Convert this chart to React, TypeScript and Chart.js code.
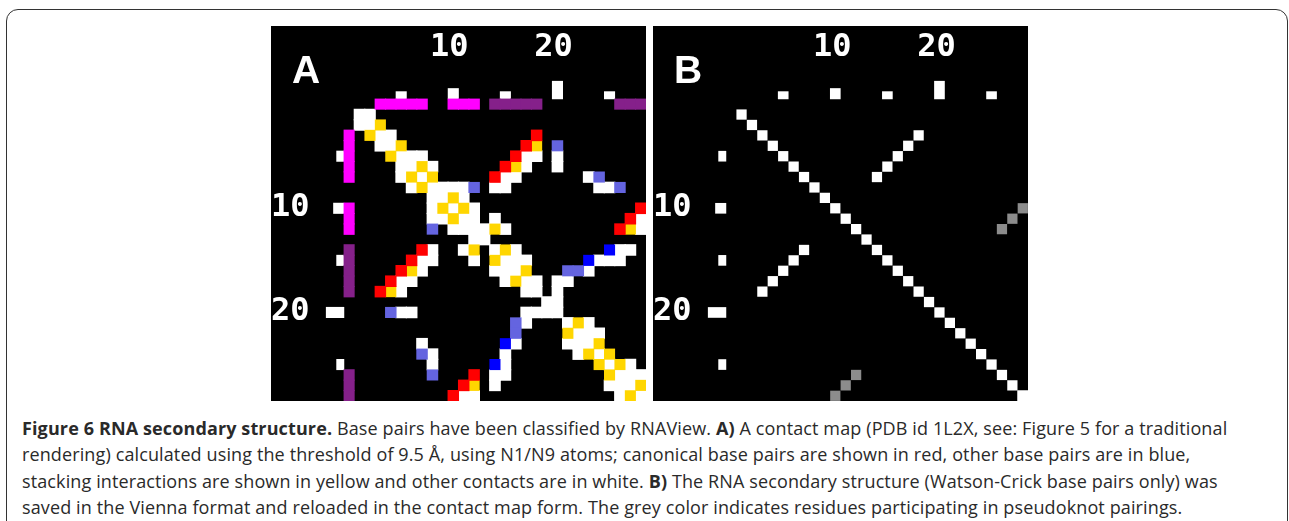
import React, { useEffect, useRef } from "react";
import { Chart, registerables } from "chart.js";

Chart.register(...registerables);

type RowCells = [number, number[]];

const AXIS_MIN = -7.5;
const AXIS_MAX = 28.5;
const TICK_LABELS = [10, 20];

const SHORT_TICKS = [5, 15, 25];
const MEDIUM_TICKS = [10];
const LONG_TICKS = [20];
const SHORT_TICK_LENGTH = 0.7;
const MEDIUM_TICK_LENGTH = 1;
const LONG_TICK_LENGTH = 1.7;

const MAGENTA_STRIP = [3, 4, 5, 6, 7, 10, 11, 12];
const PURPLE_STRIP = [14, 15, 16, 17, 18, 26, 27, 28];

const A_WHITE: RowCells[] = [
  [1, [1, 2]],
  [2, [1, 2]],
  [3, [3, 4]],
  [4, [3, 4]],
  [5, [5, 6, 7, 17, 18, 20]],
  [6, [5, 6, 8, 17, 20]],
  [7, [5, 7, 15, 16, 23]],
  [8, [6, 8, 9, 10, 11, 14, 15, 24, 25]],
  [9, [8, 9, 11]],
  [10, [8, 10, 12]],
  [11, [8, 9, 11, 12, 14, 28]],
  [12, [10, 11, 12, 13, 15, 28]],
  [13, [12, 13]],
  [14, [8, 11, 14, 16, 26, 27]],
  [15, [7, 8, 12, 15, 16, 17, 24, 25, 26]],
  [16, [7, 14, 15, 16, 23]],
  [17, [5, 6, 15, 17, 18, 20, 21]],
  [18, [5, 17, 18, 20]],
  [19, [19, 20]],
  [20, [5, 6, 17, 18, 19, 20]],
  [21, [17, 21, 23]],
  [22, [22, 23, 24]],
  [23, [7, 16, 21, 22, 23]],
  [24, [8, 15, 22, 24]],
  [25, [8, 15, 25, 27]],
  [26, [14, 15, 26, 27, 28]],
  [27, [14, 25, 26, 27]],
  [28, [11, 12, 26, 28]],
];

const A_YELLOW: RowCells[] = [
  [2, [3]],
  [3, [2]],
  [4, [5, 18]],
  [5, [4]],
  [6, [7, 16]],
  [7, [6, 8]],
  [8, [7]],
  [9, [10]],
  [10, [9, 11]],
  [11, [10]],
  [12, [14, 27]],
  [14, [12, 15]],
  [15, [14]],
  [16, [6, 17]],
  [17, [16]],
  [18, [4]],
  [21, [22]],
  [22, [21]],
  [23, [24]],
  [24, [23, 25]],
  [25, [24, 26]],
  [26, [25]],
  [27, [12, 28]],
  [28, [27]],
];

const A_RED: RowCells[] = [
  [3, [18]],
  [4, [17]],
  [5, [16]],
  [6, [15]],
  [7, [14]],
  [10, [28]],
  [11, [27]],
  [12, [26]],
  [14, [7]],
  [15, [6]],
  [16, [5]],
  [17, [4]],
  [18, [3]],
  [26, [12]],
  [27, [11]],
  [28, [10]],
];

const A_BLUE: RowCells[] = [
  [14, [25]],
  [15, [23]],
  [23, [15]],
  [25, [14]],
];

const A_LIGHT_BLUE: RowCells[] = [
  [4, [20]],
  [7, [24]],
  [8, [12, 26]],
  [12, [8]],
  [16, [21, 22]],
  [20, [4]],
  [21, [16]],
  [22, [16]],
  [24, [7]],
  [26, [8]],
];

const B_WHITE: RowCells[] = [
  [1, [1]],
  [2, [2]],
  [3, [3, 18]],
  [4, [4, 17]],
  [5, [5, 16]],
  [6, [6, 15]],
  [7, [7, 14]],
  [8, [8]],
  [9, [9]],
  [10, [10]],
  [11, [11]],
  [12, [12]],
  [13, [13]],
  [14, [7, 14]],
  [15, [6, 15]],
  [16, [5, 16]],
  [17, [4, 17]],
  [18, [3, 18]],
  [19, [19]],
  [20, [20]],
  [21, [21]],
  [22, [22]],
  [23, [23]],
  [24, [24]],
  [25, [25]],
  [26, [26]],
  [27, [27]],
];

const B_GREY: RowCells[] = [
  [10, [28]],
  [11, [27]],
  [12, [26]],
  [26, [12]],
  [27, [11]],
  [28, [10]],
];

const B_CORNER: RowCells[] = [[28, [28]]];

const WHITE = "#ffffff";
const YELLOW = "#ffd600";
const RED = "#ff0000";
const BLUE = "#0000ff";
const LIGHT_BLUE = "#6464e0";
const MAGENTA = "#ff00ff";
const PURPLE = "#85208a";
const GREY = "#8c8c8c";

const PANEL = 375;
const CELL = PANEL / (AXIS_MAX - AXIS_MIN);

function cellSet(rows: RowCells[], color: string, half: number, thick: number) {
  const data: any[] = [];
  rows.forEach(([row, cols]) =>
    cols.forEach((col) => data.push({ x: [col - half, col + half], y: row }))
  );
  return {
    indexAxis: "y",
    data,
    backgroundColor: color,
    barThickness: thick,
    grouped: false,
  };
}

function topTicks(cols: number[], len: number, thick: number) {
  return {
    indexAxis: "x",
    data: cols.map((c) => ({ x: c, y: [-0.5 - len, -0.5] })),
    backgroundColor: WHITE,
    barThickness: thick,
    grouped: false,
  };
}

function leftTicks(rows: number[], len: number, thick: number) {
  return {
    indexAxis: "y",
    data: rows.map((r) => ({ x: [-0.5 - len, -0.5], y: r })),
    backgroundColor: WHITE,
    barThickness: thick,
    grouped: false,
  };
}

function tickSets(thick: number) {
  return [
    topTicks(SHORT_TICKS, SHORT_TICK_LENGTH, thick),
    topTicks(MEDIUM_TICKS, MEDIUM_TICK_LENGTH, thick),
    topTicks(LONG_TICKS, LONG_TICK_LENGTH, thick),
    leftTicks(SHORT_TICKS, SHORT_TICK_LENGTH, thick),
    leftTicks(MEDIUM_TICKS, MEDIUM_TICK_LENGTH, thick),
    leftTicks(LONG_TICKS, LONG_TICK_LENGTH, thick),
  ];
}

function stripSets(cells: number[], color: string) {
  return [
    {
      indexAxis: "y",
      data: cells.map((c) => ({ x: [c - 0.52, c + 0.52], y: 0 })),
      backgroundColor: color,
      barThickness: CELL,
      grouped: false,
    },
    {
      indexAxis: "x",
      data: cells.map((r) => ({ x: 0, y: [r - 0.52, r + 0.52] })),
      backgroundColor: color,
      barThickness: CELL,
      grouped: false,
    },
  ];
}

function datasetsA() {
  const t = CELL + 0.5;
  return [
    cellSet(A_RED, RED, 0.52, t),
    cellSet(A_YELLOW, YELLOW, 0.5, CELL),
    cellSet(A_BLUE, BLUE, 0.5, CELL),
    cellSet(A_LIGHT_BLUE, LIGHT_BLUE, 0.52, CELL),
    ...stripSets(MAGENTA_STRIP, MAGENTA),
    ...stripSets(PURPLE_STRIP, PURPLE),
    ...tickSets(CELL),
    cellSet(A_WHITE, WHITE, 0.53, t),
  ];
}

function datasetsB() {
  const t = 9.6;
  return [
    ...tickSets(10),
    cellSet(B_WHITE, WHITE, 0.46, t),
    cellSet(B_GREY, GREY, 0.46, t),
    cellSet(B_CORNER, WHITE, 0.5, CELL),
  ];
}

const zeroPadding = (s: any) => {
  s.paddingLeft = 0;
  s.paddingRight = 0;
  s.paddingTop = 0;
  s.paddingBottom = 0;
};

function ContactMap({ left, datasets, xLabelOffset }: { left: number; datasets: () => any[]; xLabelOffset: number }) {
  const ref = useRef<HTMLCanvasElement>(null);
  useEffect(() => {
    const chart = new Chart(ref.current as HTMLCanvasElement, {
      type: "bar",
      data: { datasets: datasets() as any },
      options: {
        animation: false,
        responsive: false,
        events: [],
        layout: { padding: 0 },
        plugins: { legend: { display: false }, tooltip: { enabled: false } },
        scales: {
          x: {
            type: "linear",
            position: "top",
            min: AXIS_MIN,
            max: AXIS_MAX,
            offset: false,
            grid: { display: false },
            border: { display: false },
            afterFit: (s: any) => {
              s.height = 0;
              zeroPadding(s);
            },
            afterBuildTicks: (s: any) => {
              s.ticks = TICK_LABELS.map((value) => ({ value }));
            },
            ticks: {
              color: WHITE,
              mirror: true,
              padding: 2,
              labelOffset: xLabelOffset,
              maxRotation: 0,
              autoSkip: false,
              font: { family: "'DejaVu Sans Mono'", weight: "bold", size: 32 },
              callback: (v: any) => String(v),
            },
          },
          y: {
            type: "linear",
            position: "left",
            reverse: true,
            min: AXIS_MIN,
            max: AXIS_MAX,
            offset: false,
            grid: { display: false },
            border: { display: false },
            afterFit: (s: any) => {
              s.width = 0;
              zeroPadding(s);
            },
            afterBuildTicks: (s: any) => {
              s.ticks = TICK_LABELS.map((value) => ({ value }));
            },
            ticks: {
              color: WHITE,
              mirror: true,
              padding: 0,
              labelOffset: -1,
              autoSkip: false,
              font: { family: "'DejaVu Sans Mono'", weight: "bold", size: 32 },
              callback: (v: any) => String(v),
            },
          },
        },
      } as any,
    });
    return () => chart.destroy();
  }, [datasets, xLabelOffset]);
  return (
    <canvas
      ref={ref}
      width={PANEL}
      height={PANEL}
      style={{
        position: "absolute",
        left,
        top: 26,
        width: PANEL,
        height: PANEL,
        background: "#000",
        filter: "blur(0.6px)",
      }}
    />
  );
}

const FONT = "'Open Sans', sans-serif";

function Line({ top, children }: { top: number; children: React.ReactNode }) {
  return (
    <div
      style={{
        position: "absolute",
        left: 22,
        top,
        whiteSpace: "nowrap",
        fontFamily: FONT,
        fontSize: 18,
        letterSpacing: 0.12,
        lineHeight: "24px",
        color: "#2a2a2a",
      }}
    >
      {children}
    </div>
  );
}

function PanelLetter({ left, text }: { left: number; text: string }) {
  return (
    <div
      style={{
        position: "absolute",
        left,
        top: 47,
        fontFamily: "'Liberation Sans', sans-serif",
        fontWeight: "bold",
        fontSize: 39,
        lineHeight: "45px",
        color: "#fff",
        filter: "blur(0.4px)",
      }}
    >
      {text}
    </div>
  );
}

export default function App() {
  return (
    <div
      style={{
        position: "absolute",
        left: 0,
        top: 0,
        width: 1289,
        height: 521,
        overflow: "hidden",
        background: "#fff",
      }}
    >
      <div
        style={{
          position: "absolute",
          left: 6,
          top: 9,
          width: 1280,
          height: 560,
          border: "1px solid #333",
          borderRadius: 12,
        }}
      />
      <ContactMap left={271} datasets={datasetsA} xLabelOffset={-4} />
      <ContactMap left={653} datasets={datasetsB} xLabelOffset={-3} />
      <PanelLetter left={292} text="A" />
      <PanelLetter left={674} text="B" />
      <Line top={416}>
        <b>Figure 6 RNA secondary structure.</b> Base pairs have been classified by RNAView. <b>A)</b> A contact map
        (PDB id 1L2X, see: Figure 5 for a traditional
      </Line>
      <Line top={442}>
        rendering) calculated using the threshold of 9.5 Å, using N1/N9 atoms; canonical base pairs are shown in red,
        other base pairs are in blue,
      </Line>
      <Line top={469}>
        stacking interactions are shown in yellow and other contacts are in white. <b>B)</b> The RNA secondary structure
        (Watson-Crick base pairs only) was
      </Line>
      <Line top={495}>
        saved in the Vienna format and reloaded in the contact map form. The grey color indicates residues participating
        in pseudoknot pairings.
      </Line>
    </div>
  );
}
